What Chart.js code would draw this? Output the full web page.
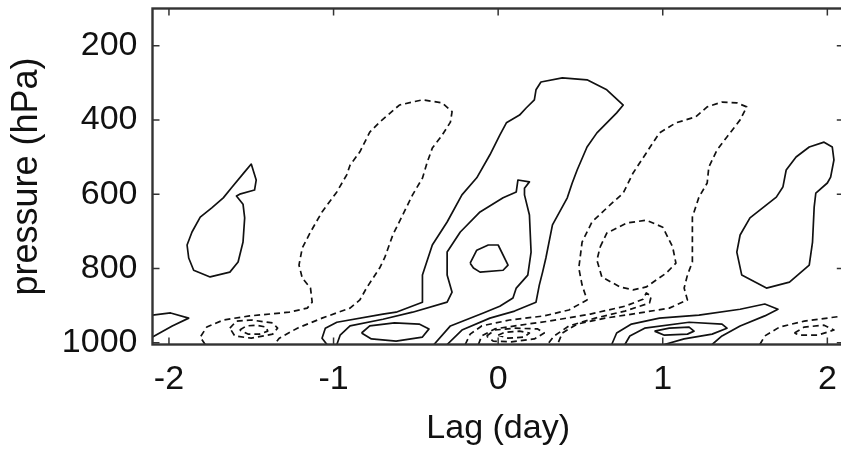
<!DOCTYPE html>
<html>
<head>
<meta charset="utf-8">
<style>
  html, body { margin: 0; padding: 0; background: #fff; overflow: hidden; }
  #wrap { width: 846px; height: 453px; }
</style>
</head>
<body>
<div id="wrap"><canvas id="lagChart" width="846" height="453"></canvas></div>
<script src="https://cdn.jsdelivr.net/npm/chart.js"></script>
<script>
// axis ticks
const xTicks = [-2, -1, 0, 1, 2];
const yTicks = [200, 400, 600, 800, 1000];

// contour lines, [lag (day), pressure (hPa)]
// solid = positive, dashed = negative
const posWestBlob = [[-1.62,583],[-1.54,540],[-1.50,519],[-1.47,562],[-1.48,589],[-1.57,600],[-1.59,605],[-1.55,627],[-1.54,664],[-1.55,729],[-1.58,783],[-1.63,810],[-1.75,823],[-1.85,805],[-1.88,772],[-1.89,737],[-1.86,702],[-1.81,662],[-1.74,637],[-1.67,610],[-1.62,583]];
const posWestWedge = [[-2.1,926],[-1.99,920],[-1.88,934],[-1.98,955],[-2.1,985]];

const negWestOuter = [[-1.78,1005],[-1.81,985],[-1.77,958],[-1.67,939],[-1.51,928],[-1.27,918],[-1.16,907],[-1.13,891],[-1.14,853],[-1.19,826],[-1.21,791],[-1.19,745],[-1.14,702],[-1.07,648],[-0.98,594],[-0.92,548],[-0.90,522],[-0.84,486],[-0.78,433],[-0.72,406],[-0.60,360],[-0.46,346],[-0.34,354],[-0.28,378],[-0.29,406],[-0.34,441],[-0.40,476],[-0.43,513],[-0.46,557],[-0.52,602],[-0.58,656],[-0.64,710],[-0.69,772],[-0.72,799],[-0.80,853],[-0.84,885],[-0.90,907],[-1.07,934],[-1.22,961],[-1.33,988],[-1.36,1005]];
const negWestMid = [[-1.63,961],[-1.59,942],[-1.50,939],[-1.37,947],[-1.34,961],[-1.37,977],[-1.50,988],[-1.60,982],[-1.63,961]];
const negWestCore = [[-1.57,966],[-1.53,955],[-1.47,953],[-1.41,958],[-1.40,969],[-1.45,977],[-1.52,977],[-1.57,966]];

const posMidOuter = [[-1.04,1005],[-1.07,988],[-1.05,961],[-0.98,945],[-0.70,923],[-0.62,918],[-0.46,891],[-0.46,818],[-0.40,737],[-0.31,675],[-0.22,602],[-0.13,556],[-0.05,494],[0.01,441],[0.05,408],[0.13,387],[0.17,368],[0.22,346],[0.23,319],[0.26,298],[0.39,287],[0.54,292],[0.66,319],[0.76,360],[0.72,381],[0.60,435],[0.54,473],[0.48,535],[0.45,570],[0.42,610],[0.33,683],[0.29,772],[0.27,810],[0.25,845],[0.23,891],[0.10,915],[-0.05,934],[-0.22,966],[-0.31,1005]];
const posMidInner = [[-0.98,1005],[-0.96,980],[-0.90,955],[-0.70,937],[-0.52,918],[-0.31,891],[-0.28,864],[-0.31,818],[-0.31,756],[-0.23,702],[-0.11,648],[0.03,610],[0.11,594],[0.12,562],[0.19,567],[0.16,584],[0.16,602],[0.19,656],[0.20,756],[0.18,818],[0.11,853],[0.09,880],[0.01,902],[-0.09,920],[-0.29,955],[-0.39,1005]];
const posMidCore = [[-0.17,786],[-0.13,751],[-0.06,737],[0.00,737],[0.06,791],[0.03,805],[-0.11,810],[-0.15,799],[-0.17,786]];
const posLowCell = [[-0.83,974],[-0.78,955],[-0.63,947],[-0.48,950],[-0.42,963],[-0.46,985],[-0.62,996],[-0.77,990],[-0.83,974]];

const negMidOuter = [[-0.20,1005],[-0.17,977],[-0.10,955],[0.07,939],[0.28,928],[0.43,912],[0.54,885],[0.51,845],[0.49,799],[0.51,729],[0.57,675],[0.68,629],[0.76,597],[0.82,543],[0.90,489],[0.98,435],[1.08,408],[1.20,392],[1.27,365],[1.36,352],[1.45,354],[1.51,365],[1.47,400],[1.39,446],[1.33,481],[1.28,527],[1.27,570],[1.22,608],[1.18,662],[1.18,783],[1.15,818],[1.13,853],[1.15,885],[1.04,907],[0.86,920],[0.65,934],[0.48,950],[0.39,974],[0.36,1005]];
const negMidTongue = [[-0.12,1005],[-0.10,982],[-0.02,963],[0.13,953],[0.31,942],[0.56,923],[0.77,902],[0.88,883],[0.90,866],[0.93,875],[0.92,893],[0.77,915],[0.59,934],[0.43,955],[0.34,982],[0.30,1005]];
const negMidCell = [[-0.07,982],[-0.02,966],[0.10,961],[0.24,963],[0.28,974],[0.22,990],[0.08,998],[-0.03,996],[-0.07,982]];
const negMidCore = [[0.00,980],[0.04,972],[0.13,969],[0.19,974],[0.16,985],[0.06,988],[0.00,980]];
const negEastRing = [[0.62,742],[0.66,705],[0.78,678],[0.90,670],[1.00,689],[1.06,742],[1.08,786],[1.02,813],[0.90,850],[0.82,858],[0.74,850],[0.63,823],[0.60,778],[0.62,742]];

const posEastOuter = [[0.69,1005],[0.72,974],[0.81,950],[0.98,934],[1.22,926],[1.47,910],[1.62,896],[1.70,910],[1.62,928],[1.47,955],[1.36,982],[1.30,1005]];
const posEastMid = [[0.77,1005],[0.80,982],[0.89,961],[1.16,945],[1.36,950],[1.39,961],[1.30,977],[1.13,990],[1.01,1005]];
const posEastCore = [[0.95,969],[1.04,961],[1.16,958],[1.19,969],[1.15,977],[1.01,980],[0.95,969]];
const posFarEast = [[1.73,581],[1.75,535],[1.81,500],[1.89,473],[1.98,460],[2.03,473],[2.04,508],[2.02,554],[2.00,570],[1.93,597],[1.92,635],[1.91,729],[1.89,791],[1.77,837],[1.63,853],[1.48,818],[1.45,756],[1.47,710],[1.53,664],[1.69,608],[1.73,581]];

const negFarEastOuter = [[1.59,1005],[1.62,982],[1.71,958],[1.86,942],[2.1,928]];
const negFarEastCore = [[1.80,974],[1.86,958],[1.98,953],[2.04,966],[1.94,980],[1.83,980],[1.80,974]];

const solidLines = [posWestBlob, posWestWedge, posMidOuter, posMidInner, posMidCore, posLowCell,
  posEastOuter, posEastMid, posEastCore, posFarEast];
const dashedLines = [negWestOuter, negWestMid, negWestCore, negMidOuter, negMidTongue, negMidCell,
  negMidCore, negEastRing, negFarEastOuter, negFarEastCore];

function contour(pts, dashed) {
  return {
    data: pts.map(p => ({ x: p[0], y: p[1] })),
    showLine: true,
    pointRadius: 0,
    borderWidth: 1.7,
    borderColor: '#111',
    borderDash: dashed ? [6, 4] : [],
    borderJoinStyle: 'round',
    fill: false,
    tension: 0
  };
}

// box round the plot with ticks pointing inward
const frameTicks = {
  id: 'frameTicks',
  afterDatasetsDraw(chart) {
    const { ctx, chartArea: a, scales: { x, y } } = chart;
    ctx.save();
    ctx.strokeStyle = '#333';
    ctx.lineWidth = 1.5;
    ctx.beginPath();
    x.ticks.forEach(t => {
      const px = x.getPixelForValue(t.value);
      ctx.moveTo(px, a.bottom); ctx.lineTo(px, a.bottom - 7);
      ctx.moveTo(px, a.top); ctx.lineTo(px, a.top + 7);
    });
    y.ticks.forEach(t => {
      const py = y.getPixelForValue(t.value);
      ctx.moveTo(a.left, py); ctx.lineTo(a.left + 7, py);
      ctx.moveTo(a.right, py); ctx.lineTo(a.right - 7, py);
    });
    ctx.stroke();
    ctx.lineWidth = 2.4;
    ctx.strokeRect(a.left, a.top, a.right - a.left, a.bottom - a.top);
    ctx.restore();
  }
};

const font = { family: '"Liberation Sans", Arial, sans-serif', size: 34 };

new Chart(document.getElementById('lagChart').getContext('2d'), {
  type: 'scatter',
  data: {
    datasets: solidLines.map(c => contour(c, false)).concat(dashedLines.map(c => contour(c, true)))
  },
  options: {
    responsive: false,
    animation: false,
    layout: { padding: { top: 8.5, right: 2.2, left: 0, bottom: 0 } },
    plugins: { legend: { display: false }, tooltip: { enabled: false } },
    scales: {
      x: {
        type: 'linear', min: -2.1, max: 2.1,
        afterBuildTicks: s => { s.ticks = xTicks.map(v => ({ value: v })); },
        afterFit: s => { s.height = 108.5; s.paddingLeft = 0; s.paddingRight = 0; },
        grid: { display: false, drawTicks: false },
        border: { display: false },
        ticks: { padding: 15, color: '#111', font: font, maxRotation: 0, autoSkip: false, callback: v => String(v) },
        title: { display: true, text: 'Lag (day)', color: '#111', font: font, padding: { top: 0, bottom: 4 } }
      },
      y: {
        type: 'linear', reverse: true, min: 100, max: 1005,
        afterBuildTicks: s => { s.ticks = yTicks.map(v => ({ value: v })); },
        afterFit: s => { s.width = 152.5; s.paddingTop = 0; s.paddingBottom = 0; },
        grid: { display: false, drawTicks: false },
        border: { display: false },
        ticks: { padding: 15, color: '#111', font: font, autoSkip: false, callback: v => String(v) },
        title: { display: true, text: 'pressure (hPa)', color: '#111', font: { family: font.family, size: 36 }, padding: { top: 5, bottom: 0 } }
      }
    }
  },
  plugins: [frameTicks]
});
</script>
</body>
</html>
